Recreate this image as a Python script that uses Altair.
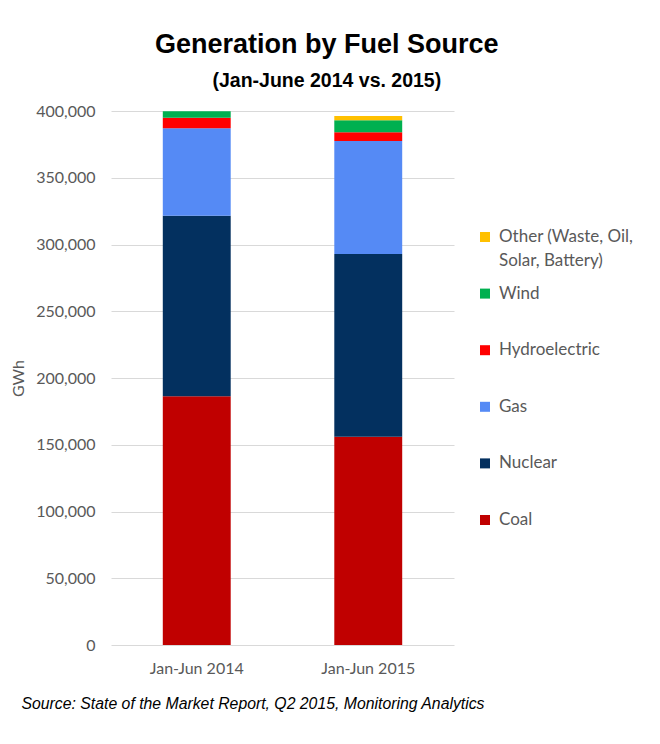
import altair as alt
import pandas as pd

periods = ["Jan-Jun 2014", "Jan-Jun 2015"]
fuels = ["Other (Waste, Oil, Solar, Battery)", "Wind", "Hydroelectric", "Gas", "Nuclear", "Coal"]
legend_labels = ["Other (Waste, Oil,\nSolar, Battery)", "Wind", "Hydroelectric", "Gas", "Nuclear", "Coal"]
colors = ["#FFC000", "#00B050", "#FF0000", "#558AF5", "#03305F", "#C00000"]

coal = [186400, 155900]
nuclear = [135200, 136900]
gas = [65400, 84700]
hydro = [8000, 6500]
wind = [4800, 9000]
other = [0, 3200]

series = {"Coal": coal, "Nuclear": nuclear, "Gas": gas, "Hydroelectric": hydro,
          "Wind": wind, "Other (Waste, Oil, Solar, Battery)": other}
stack_rank = {"Coal": 0, "Nuclear": 1, "Gas": 2, "Hydroelectric": 3, "Wind": 4,
              "Other (Waste, Oil, Solar, Battery)": 5}

rows = []
for fuel, vals in series.items():
    for p, v in zip(periods, vals):
        rows.append({"period": p, "fuel": fuel, "gwh": v, "rank": stack_rank[fuel]})
df = pd.DataFrame(rows)

legend_df = pd.DataFrame({"fuel": fuels, "label": legend_labels})

NARROW = "'Liberation Sans Narrow', 'Arial Narrow', 'Liberation Sans', Arial, sans-serif"
GRAY = "#595959"

color_scale = alt.Scale(domain=fuels, range=colors)

bars = alt.Chart(df).mark_bar().encode(
    x=alt.X("period:N", sort=periods,
            scale=alt.Scale(paddingInner=0.604, paddingOuter=0.302),
            axis=alt.Axis(labelAngle=0, labelFont="Lato", labelFontSize=16, labelColor=GRAY,
                          labelPadding=15, ticks=False, domain=False,
                          title="Source: State of the Market Report, Q2 2015, Monitoring Analytics",
                          titleFont=NARROW, titleFontStyle="italic", titleFontWeight="normal",
                          titleFontSize=15.8, titleColor="black", titleAnchor="start",
                          titleAlign="left", titleBaseline="alphabetic", titleX=-90, titleY=63)),
    y=alt.Y("gwh:Q", stack="zero",
            scale=alt.Scale(domain=[0, 400000], nice=False),
            axis=alt.Axis(values=list(range(0, 400001, 50000)), format=",.0f",
                          labelFont="Lato", labelFontSize=16, labelColor=GRAY, labelPadding=16,
                          ticks=False, domain=False, gridColor="#D9D9D9", gridWidth=1,
                          title="GWh", titleFont="Lato", titleFontSize=16, titleFontWeight="normal",
                          titleColor=GRAY, titlePadding=9)),
    color=alt.Color("fuel:N", scale=color_scale, legend=None),
    order=alt.Order("rank:Q", sort="ascending"),
).properties(width=343, height=534)

ly = alt.Y("fuel:N", sort=fuels, axis=None,
           scale=alt.Scale(type="point", range=[126, 409], padding=0))
leg_sq = alt.Chart(legend_df).mark_square(size=100, opacity=1).encode(
    y=ly, x=alt.value(15),
    color=alt.Color("fuel:N", scale=color_scale, legend=None),
)
leg_tx = alt.Chart(legend_df).mark_text(align="left", baseline="top", dy=-8, lineBreak="\n",
                                        font="Lato", fontSize=17, color=GRAY, lineHeight=23.5).encode(
    y=ly, x=alt.value(29), text="label:N",
)
legend = alt.layer(leg_sq, leg_tx).properties(width=169, height=534)

chart = alt.hconcat(bars, legend, spacing=16, bounds="flush").properties(
    title=alt.TitleParams(text="Generation by Fuel Source", subtitle="(Jan-June 2014 vs. 2015)",
                          font=NARROW, fontSize=27, fontWeight="bold", color="black",
                          subtitleFont=NARROW, subtitleFontSize=19.5, subtitleFontWeight="bold",
                          subtitleColor="black", subtitlePadding=13, anchor="middle", offset=12,
                          dx=2),
    padding={"left": 2, "top": 22, "right": 5, "bottom": 5},
    background="white",
).configure_view(stroke=None)

chart.save("out.html", embed_options={"renderer": "svg", "actions": False})
